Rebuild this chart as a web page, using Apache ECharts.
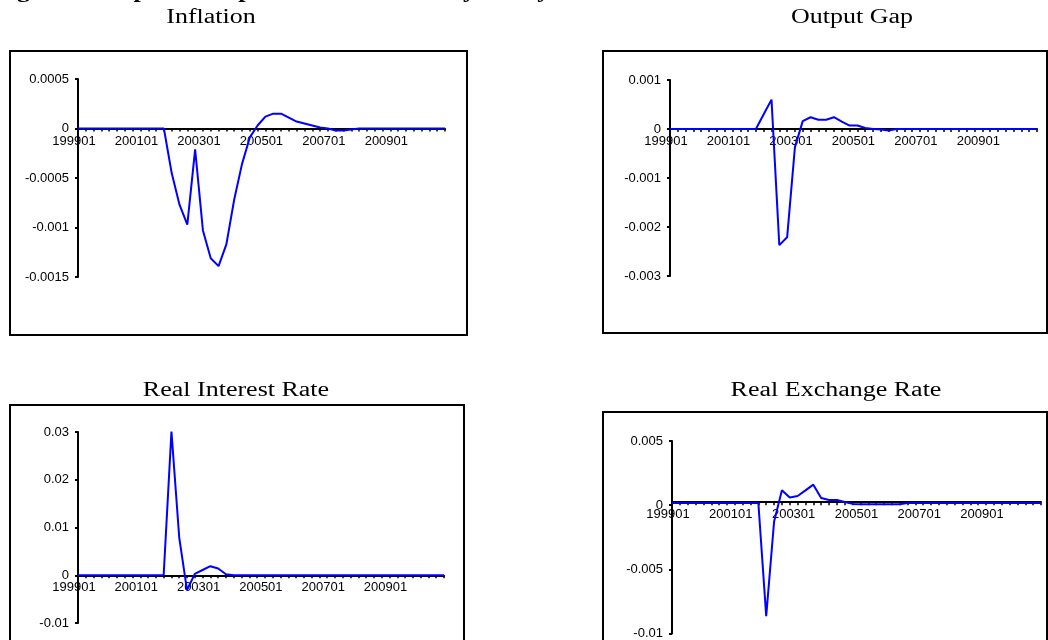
<!DOCTYPE html>
<html>
<head>
<meta charset="utf-8">
<script src="https://cdn.jsdelivr.net/npm/echarts@6/dist/echarts.min.js"></script>
<style>
  html, body { margin: 0; padding: 0; background: #fff; }
  #chart { width: 1048px; height: 640px; }
</style>
</head>
<body>
<div id="chart"></div>
<script>
// quarterly periods 199901 .. 201004
const years = ['1999', '2000', '2001', '2002', '2003', '2004', '2005', '2006', '2007', '2008', '2009', '2010']
const qtrs = ['01', '02', '03', '04']
const periods = []
for (const y of years) {
  for (const q of qtrs) {
    periods.push(y + q)
  }
}

const panelTitles = ['Inflation', 'Output Gap', 'Real Interest Rate', 'Real Exchange Rate']

const inflation = [
  0, 0, 0, 0, 0, 0, 0, 0, 0, 0, 0, 0,
  -0.00045, -0.00077, -0.00097, -0.00021, -0.00103, -0.00131, -0.00139, -0.00117,
  -0.00072, -0.00036, -0.00009, 0.00003, 0.00012, 0.00015, 0.00015, 0.00011,
  0.00007, 0.00005, 0.00003, 0.00001, 0, -0.00002, -0.00002, -0.00001,
  0, 0, 0, 0, 0, 0, 0, 0, 0, 0, 0, 0
]

const outputGap = [
  0, 0, 0, 0, 0, 0, 0, 0, 0, 0, 0, 0,
  0.0003, 0.0006, -0.00237, -0.00221, -0.00037, 0.00016, 0.00024, 0.00019,
  0.00019, 0.00024, 0.00015, 0.00007, 0.00007, 0.00002, 0, -0.00001,
  -0.00003, 0, 0, 0, 0, 0, 0, 0,
  0, 0, 0, 0, 0, 0, 0, 0, 0, 0, 0, 0
]

const interestRate = [
  0, 0, 0, 0, 0, 0, 0, 0, 0, 0, 0, 0,
  0.0301, 0.0079, -0.0031, 0.0003, 0.0011, 0.0019, 0.0014, 0.0002,
  0, 0, 0, 0, 0, 0, 0, 0, 0, 0, 0, 0, 0, 0, 0, 0,
  0, 0, 0, 0, 0, 0, 0, 0, 0, 0, 0, 0
]

const exchangeRate = [
  0.00017, 0.00017, 0.00017, 0.00017, 0.00017, 0.00017, 0.00017, 0.00017, 0.00017, 0.00017, 0.00017, 0.00017,
  -0.00865, -0.0013, 0.00117, 0.00059, 0.00071, 0.00115, 0.0016, 0.00056,
  0.0004, 0.0004, 0.00025, 0.0001, 0.00008, 0.00008, 0.00008, 0.00008,
  0.00008, 0.00008, 0.00017, 0.00017, 0.00017, 0.00017, 0.00017, 0.00017,
  0.00017, 0.00017, 0.00017, 0.00017, 0.00017, 0.00017, 0.00017, 0.00017, 0.00017, 0.00017, 0.00017, 0.00017
]

// y ranges per panel: [min, max, interval]
const yRanges = [
  [-0.0015, 0.0005, 0.0005],
  [-0.003, 0.001, 0.001],
  [-0.01, 0.03, 0.01],
  [-0.01, 0.005, 0.005]
]

const seriesData = [inflation, outputGap, interestRate, exchangeRate]

const grids = [
  { left: 78, top: 79, width: 367, height: 198 },
  { left: 670, top: 80, width: 367, height: 196 },
  { left: 78, top: 432, width: 366, height: 191 },
  { left: 672, top: 441, width: 369, height: 197 }
]

const frames = [
  { x: 10, y: 51, width: 457, height: 284 },
  { x: 603, y: 51, width: 444, height: 282 },
  { x: 10, y: 405, width: 454, height: 250 },
  { x: 603, y: 412, width: 444, height: 250 }
]

const titlePos = [[211, 18], [852, 18], [236, 391], [836, 391]]

const labelFont = 'Liberation Sans, Arial, sans-serif'

const chart = echarts.init(document.getElementById('chart'), null, { renderer: 'canvas' })

const graphic = []
frames.forEach(f => {
  graphic.push({
    type: 'rect',
    shape: f,
    style: { fill: 'none', stroke: '#000', lineWidth: 2 },
    z: 0
  })
})
panelTitles.forEach((t, i) => {
  graphic.push({
    type: 'text',
    x: titlePos[i][0],
    y: titlePos[i][1],
    scaleX: 1.3,
    style: {
      text: t,
      x: 0,
      y: 0,
      textAlign: 'center',
      textVerticalAlign: 'middle',
      font: '20px "Liberation Serif", "Times New Roman", serif',
      fill: '#000'
    }
  })
})
// heading above the panels, cut off by the top edge (only descenders show)
graphic.push({
  type: 'text',
  x: -6,
  y: 1.5,
  scaleX: 1.3,
  style: {
    text: 'Figure 4: Impulse Responses to a Monetary Policy Shock',
    x: 0,
    y: 0,
    textAlign: 'left',
    textVerticalAlign: 'bottom',
    font: 'bold 20px "Liberation Serif", "Times New Roman", serif',
    fill: '#000'
  }
})

chart.setOption({
  backgroundColor: '#fff',
  animation: false,
  graphic: graphic,
  grid: grids,
  xAxis: grids.map((g, i) => ({
    type: 'category',
    gridIndex: i,
    data: periods,
    boundaryGap: false,
    position: 'bottom',
    // lift the whole axis (line, ticks, labels) up to the zero level
    offset: -g.height * (0 - yRanges[i][0]) / (yRanges[i][1] - yRanges[i][0]),
    axisLine: { onZero: false, lineStyle: { color: '#000', width: 2 } },
    axisTick: { show: true, interval: 0, length: 3, lineStyle: { color: '#000', width: 1.5 } },
    axisLabel: {
      interval: 7,
      margin: 6,
      padding: [0, 8, 0, 0],
      color: '#000',
      fontSize: 13,
      fontFamily: labelFont
    },
    splitLine: { show: false }
  })),
  yAxis: grids.map((g, i) => ({
    type: 'value',
    gridIndex: i,
    min: yRanges[i][0],
    max: yRanges[i][1],
    interval: yRanges[i][2],
    axisLine: { show: true, onZero: false, lineStyle: { color: '#000', width: 2 } },
    axisTick: { show: true, length: 3, lineStyle: { color: '#000', width: 2 } },
    axisLabel: {
      margin: 9,
      color: '#000',
      fontSize: 13,
      fontFamily: labelFont
    },
    splitLine: { show: false }
  })),
  series: seriesData.map((d, i) => ({
    type: 'line',
    xAxisIndex: i,
    yAxisIndex: i,
    data: d,
    showSymbol: false,
    lineStyle: { color: '#0000ff', width: 2 },
    z: 3
  }))
})
</script>
</body>
</html>
